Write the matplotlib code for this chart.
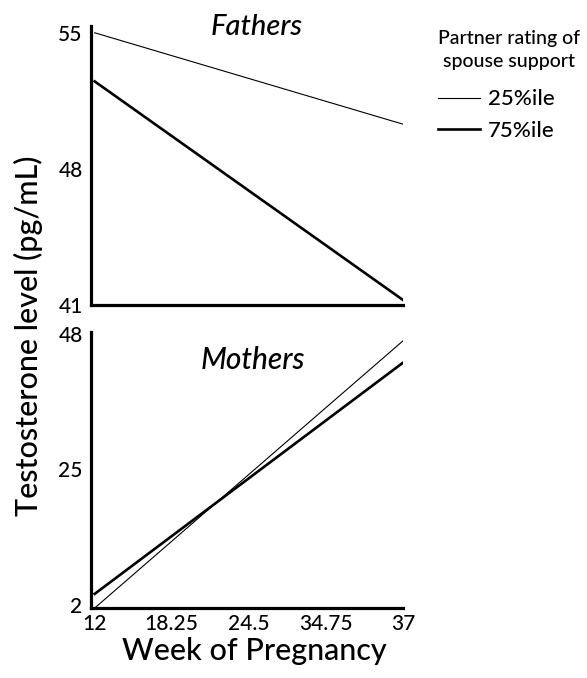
import matplotlib.pyplot as plt

plt.rcParams['font.family'] = ['Lato', 'DejaVu Sans']
plt.rcParams['font.weight'] = 'medium'

# weeks of pregnancy (start / end of fitted lines)
weeks = [12, 37]

# fitted testosterone lines, pg/mL
fathers_25 = [55.0, 50.3]
fathers_75 = [52.5, 41.26]
mothers_25 = [1.5, 46.8]
mothers_75 = [3.9, 43.1]

xtick_pos = [12, 18.25, 24.5, 30.75, 37]
xtick_labels = ["12", "18.25", "24.5", "34.75", "37"]
fathers_yticks = [41, 48, 55]
mothers_yticks = [2, 25, 48]

fig = plt.figure(figsize=(5.87, 6.78), dpi=100)
ax1 = fig.add_axes([0.155, 0.5501, 0.5315, 0.4116])
ax2 = fig.add_axes([0.155, 0.1032, 0.5315, 0.4071])

thin = 0.8
thick = 1.9

ax1.plot(weeks, fathers_25, color='black', lw=thin, label='25%ile')
ax1.plot(weeks, fathers_75, color='black', lw=thick, label='75%ile')
ax2.plot(weeks, mothers_25, color='black', lw=thin)
ax2.plot(weeks, mothers_75, color='black', lw=thick)

ax1.set_ylim(41, 55.35)
ax2.set_ylim(1.5, 48.3)
ax1.set_yticks(fathers_yticks)
ax2.set_yticks(mothers_yticks)

for ax in (ax1, ax2):
    ax.set_xlim(11.7, 37)
    ax.spines['top'].set_visible(False)
    ax.spines['right'].set_visible(False)
    ax.spines['left'].set_linewidth(2.3)
    ax.spines['bottom'].set_linewidth(2.3)
    ax.tick_params(length=0, labelsize=15, pad=6)

ax1.set_xticks([])
ax2.set_xticks(xtick_pos)
ax2.set_xticklabels(xtick_labels)
ax2.tick_params(axis='x', pad=4)

ax1.text(0.53, 0.995, "Fathers", transform=ax1.transAxes, ha='center', va='center',
         fontsize=21, style='italic')
ax2.text(0.52, 0.9, "Mothers", transform=ax2.transAxes, ha='center', va='center',
         fontsize=21.5, style='italic')

fig.text(0.048, 0.505, "Testosterone level (pg/mL)", rotation=90, ha='center', va='center',
         fontsize=22)
fig.text(0.433, 0.027, "Week of Pregnancy", ha='center', va='baseline', fontsize=22)

# legend title drawn separately so the gap below it matches
fig.text(0.867, 0.926, "Partner rating of\nspouse support", ha='center', va='center',
         fontsize=14, linespacing=1.45)
leg = fig.legend(loc='upper left', bbox_to_anchor=(0.746, 0.868),
                 frameon=False, borderaxespad=0, borderpad=0,
                 fontsize=16, handlelength=1.9, handletextpad=0.35,
                 labelspacing=0.5)

fig.savefig("out.png", dpi=100)
